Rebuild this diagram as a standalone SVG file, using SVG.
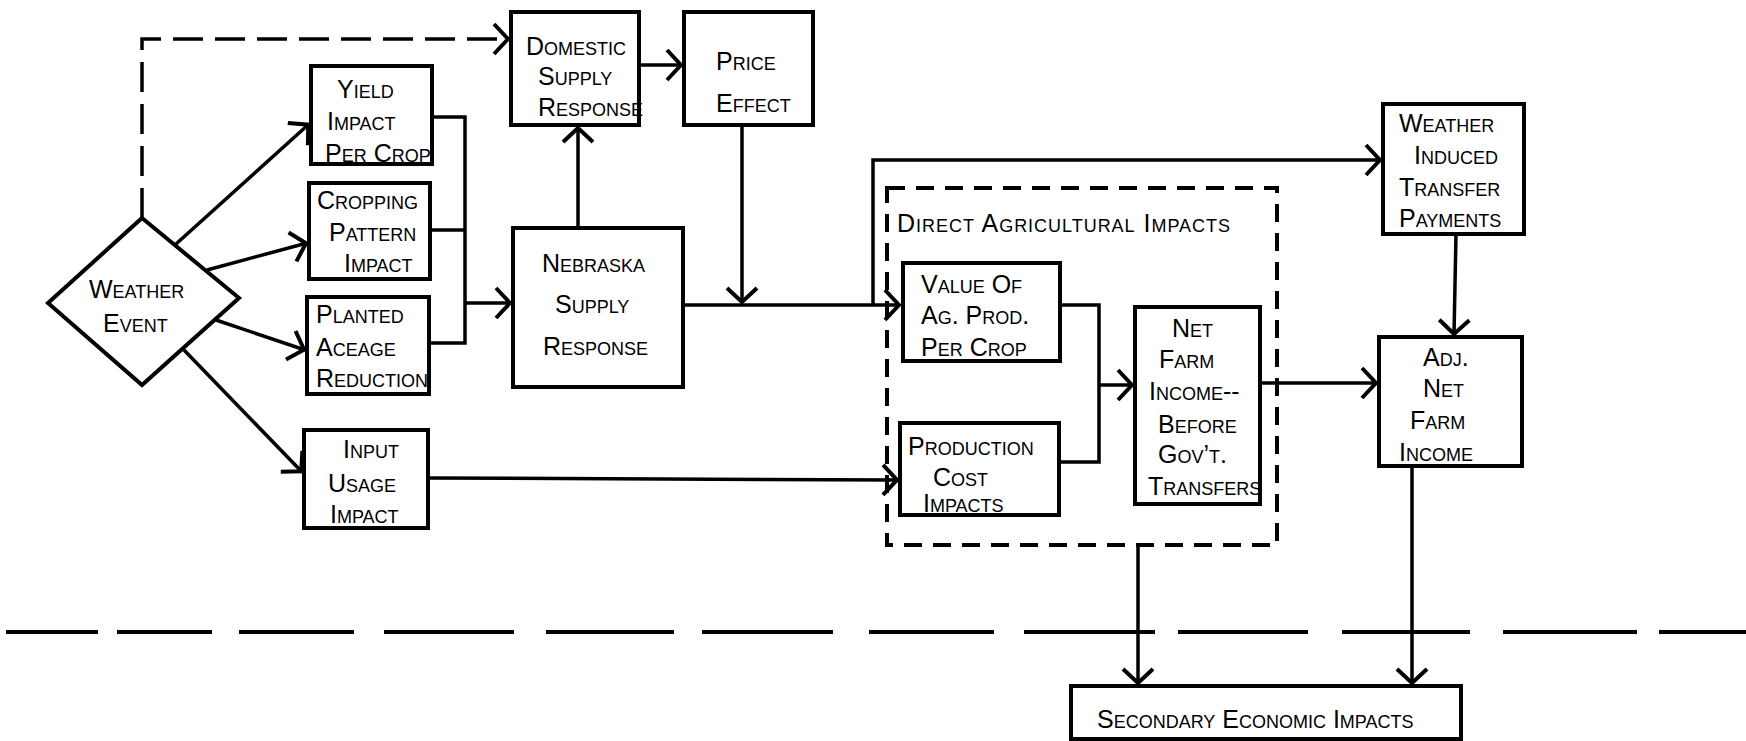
<svg xmlns="http://www.w3.org/2000/svg" width="1746" height="741" viewBox="0 0 1746 741">
<style>
.bx{fill:#fff;stroke:#000;stroke-width:4}
.t{font-family:"Liberation Sans",sans-serif;font-size:25px;font-variant:small-caps;fill:#000}
.ln{fill:none;stroke:#000;stroke-width:3.5}
.dl{fill:none;stroke:#000;stroke-width:3.5;stroke-dasharray:30 12}
.db{fill:none;stroke:#000;stroke-width:4;stroke-dasharray:18 11}
.a{marker-end:url(#ah)}
</style>
<defs>
<marker id="ah" viewBox="-18 -18 22 36" refX="1" refY="0" markerWidth="22" markerHeight="36" orient="auto" markerUnits="userSpaceOnUse">
<path d="M-14,-15 L0,0 L-14,15" fill="none" stroke="#000" stroke-width="4"/>
</marker>
</defs>
<rect width="1746" height="741" fill="#fff"/>
<g id="connectors">
<path class="dl a" d="M142,218 L142,39 L509,39"/>
<path class="ln a" d="M176,244 L309,124"/>
<path class="ln a" d="M207,270 L307,243"/>
<path class="ln a" d="M216,320 L305,350"/>
<path class="ln a" d="M184,350 L302,472"/>
<path class="ln" d="M432,117 L465,117 L465,343 L429,343 M430,230 L465,230"/>
<path class="ln a" d="M465,303 L511,303"/>
<path class="ln a" d="M578,228 L578,127"/>
<path class="ln a" d="M639,65 L682,65"/>
<path class="ln a" d="M742,125 L742,303"/>
<path class="ln a" d="M683,305 L900,305"/>
<path class="ln a" d="M873,305 L873,160 L1381,160"/>
<path class="ln a" d="M428,478 L898,480"/>
<path class="ln" d="M1060,305 L1099,305 L1099,462 L1059,462"/>
<path class="ln a" d="M1099,385 L1133,385"/>
<path class="ln a" d="M1260,383 L1377,383"/>
<path class="ln a" d="M1456,234 L1454,335"/>
<path class="ln a" d="M1412,466 L1412,684"/>
<path class="ln a" d="M1138,545 L1138,684"/>
<path fill="none" stroke="#000" stroke-width="4" d="M6,632 L98,632 M117,632 L212,632 M239,632 L354,632 M384,632 L514,632 M546,632 L674,632 M702,632 L833,632 M869,632 L994,632 M1024,632 L1155,632 M1178,632 L1308,632 M1342,632 L1470,632 M1503,632 L1637,632 M1659,632 L1746,632"/>
</g>
<g id="direct-agricultural-impacts">
<rect class="db" x="887" y="188" width="390" height="357"/>
<text class="t" x="897" y="232" textLength="333">Direct Agricultural Impacts</text>
</g>
<g id="weather-event">
<polygon class="bx" points="142,218 239,298 142,385 48,303"/>
<text class="t" x="89" y="298">Weather</text>
<text class="t" x="103" y="332">Event</text>
</g>
<g id="yield-impact">
<rect class="bx" x="311" y="66" width="121" height="98"/>
<text class="t" x="337" y="98">Yield</text>
<text class="t" x="327" y="130">Impact</text>
<text class="t" x="325" y="162">Per Crop</text>
</g>
<g id="cropping-pattern">
<rect class="bx" x="309" y="183" width="121" height="96"/>
<text class="t" x="317" y="209">Cropping</text>
<text class="t" x="329" y="241">Pattern</text>
<text class="t" x="344" y="272">Impact</text>
</g>
<g id="planted-aceage">
<rect class="bx" x="307" y="297" width="122" height="97"/>
<text class="t" x="316" y="323">Planted</text>
<text class="t" x="316" y="356">Aceage</text>
<text class="t" x="316" y="387">Reduction</text>
</g>
<g id="input-usage">
<rect class="bx" x="304" y="430" width="124" height="98"/>
<text class="t" x="343" y="458">Input</text>
<text class="t" x="328" y="492">Usage</text>
<text class="t" x="330" y="523">Impact</text>
</g>
<g id="nebraska-supply">
<rect class="bx" x="513" y="228" width="170" height="159"/>
<text class="t" x="542" y="272">Nebraska</text>
<text class="t" x="555" y="313">Supply</text>
<text class="t" x="543" y="355">Response</text>
</g>
<g id="domestic-supply">
<rect class="bx" x="511" y="12" width="128" height="113"/>
<text class="t" x="526" y="55">Domestic</text>
<text class="t" x="538" y="85">Supply</text>
<text class="t" x="538" y="116">Response</text>
</g>
<g id="price-effect">
<rect class="bx" x="684" y="12" width="129" height="113"/>
<text class="t" x="716" y="70">Price</text>
<text class="t" x="716" y="112">Effect</text>
</g>
<g id="value-of-ag-prod">
<rect class="bx" x="903" y="263" width="157" height="98"/>
<text class="t" x="921" y="293">Value Of</text>
<text class="t" x="921" y="324">Ag. Prod.</text>
<text class="t" x="921" y="356">Per Crop</text>
</g>
<g id="production-cost">
<rect class="bx" x="900" y="423" width="159" height="92"/>
<text class="t" x="908" y="455">Production</text>
<text class="t" x="933" y="486">Cost</text>
<text class="t" x="923" y="512">Impacts</text>
</g>
<g id="net-farm-income">
<rect class="bx" x="1135" y="307" width="125" height="197"/>
<text class="t" x="1172" y="337">Net</text>
<text class="t" x="1159" y="368">Farm</text>
<text class="t" x="1149" y="400">Income--</text>
<text class="t" x="1158" y="433">Before</text>
<text class="t" x="1158" y="463">Gov’t.</text>
<text class="t" x="1148" y="495">Transfers</text>
</g>
<g id="weather-induced-transfer">
<rect class="bx" x="1383" y="104" width="141" height="130"/>
<text class="t" x="1399" y="132">Weather</text>
<text class="t" x="1414" y="164">Induced</text>
<text class="t" x="1399" y="196">Transfer</text>
<text class="t" x="1399" y="227">Payments</text>
</g>
<g id="adj-net-farm-income">
<rect class="bx" x="1379" y="337" width="143" height="129"/>
<text class="t" x="1423" y="366">Adj.</text>
<text class="t" x="1423" y="397">Net</text>
<text class="t" x="1410" y="429">Farm</text>
<text class="t" x="1399" y="461">Income</text>
</g>
<g id="secondary-economic-impacts">
<rect class="bx" x="1071" y="686" width="390" height="53"/>
<text class="t" x="1097" y="728">Secondary Economic Impacts</text>
</g>
</svg>
